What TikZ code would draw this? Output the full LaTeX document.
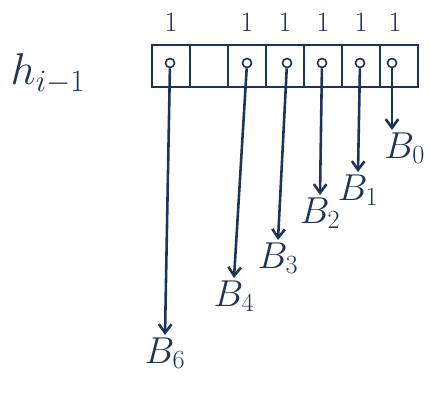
\documentclass[tikz,border=0pt]{standalone}
\usepackage{fix-cm}
\usetikzlibrary{arrows.meta,positioning}
\definecolor{ink}{RGB}{28,52,88}
\begin{document}
\begin{tikzpicture}[x=0.03cm, y=-0.03cm, ink, line width=2.2pt,
  c/.style={rectangle, draw, minimum width=1.14cm, minimum height=1.26cm, inner sep=0, outer sep=0},
  d/.style={circle, draw, line width=1.4pt, minimum size=2.7mm, inner sep=0},
  b/.style={font=\fontsize{32}{36}\selectfont, inner sep=1pt},
  o/.style={font=\fontsize{24}{26}\selectfont},
  >={Straight Barb[length=2.6mm,width=3.8mm]}]
\useasboundingbox (0,0) rectangle (430,394);
\node[font=\fontsize{38}{42}\selectfont] (h) at (48,74) {$h_{i-1}$};
\foreach \i in {0,...,6} \node[c] (c\i) at (171+38*\i,66) {};
% set bits: cell / bit / circle x / tip x / tip y
\foreach \k/\b/\p/\x/\y in {0/6/170/165/335, 2/4/247/234/278, 3/3/287/278/240, 4/2/322/320/195, 5/1/360/358/172} {
  \node[d] (d\b) at (\p,63) {};
  \node[o] (o\b) at (171+38*\k,22) {$1$};
  \node[b, anchor=north] (B\b) at (\x,\y) {$B_\b$};
  \draw[->] (d\b) -- (B\b.north);
}
\node[d] (d0) at (392,63) {};
\node[o] (o0) at (395,22) {$1$};
\node[b, anchor=north west] (B0) at (382,130) {$B_0$};
\draw[->] (d0) -- (d0 |- B0.north);
\end{tikzpicture}
\end{document}
